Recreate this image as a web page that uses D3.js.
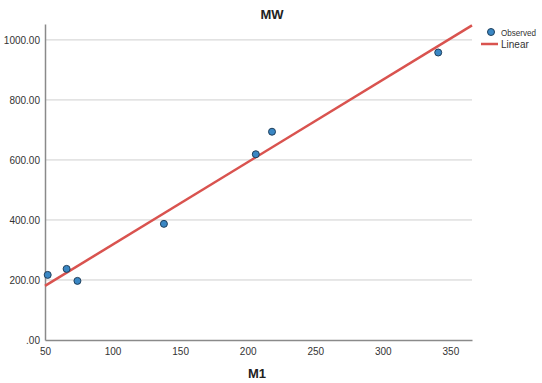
<!DOCTYPE html>
<html>
<head>
<meta charset="utf-8">
<script src="https://cdnjs.cloudflare.com/ajax/libs/d3/7.8.5/d3.min.js"></script>
<style>
body { margin: 0; background: #fff; }
text { font-family: Arial, "Liberation Sans", sans-serif; }
</style>
</head>
<body>
<div id="chart-area"></div>
<script>
var m1 = [52, 66, 74, 138, 206, 218, 341];
var mw = [217, 237, 197, 387, 619, 694, 958];
var xTicks = [50, 100, 150, 200, 250, 300, 350];
var yTicks = [0, 200, 400, 600, 800, 1000];

var width = 542, height = 383;
var margin = {top: 24, right: 70, bottom: 43, left: 45};

var svg = d3.select("#chart-area").append("svg")
	.attr("width", width)
	.attr("height", height);

var x = d3.scaleLinear().domain([50, 366]).range([margin.left, width - margin.right]);
var y = d3.scaleLinear().domain([0, 1053]).range([height - margin.bottom, margin.top]);

// gridlines
svg.append("g").selectAll("line").data(yTicks.filter(d => d > 0)).enter()
	.append("line")
	.attr("x1", x(50)).attr("x2", x(366))
	.attr("y1", d => y(d)).attr("y2", d => y(d))
	.attr("stroke", "#cfcfcf").attr("stroke-width", 1);

// axes
var bottomAxis = d3.axisBottom(x).tickValues(xTicks).tickSize(0).tickPadding(8);
svg.append("g")
	.attr("transform", "translate(0," + y(0) + ")")
	.call(bottomAxis)
	.call(g => g.select(".domain").attr("stroke", "#8a8a8a").attr("stroke-width", 1.5))
	.selectAll("text").attr("font-size", "10px").attr("fill", "#333");

var leftAxis = d3.axisLeft(y).tickValues(yTicks).tickSize(0).tickPadding(5)
	.tickFormat(d => d === 0 ? ".00" : d3.format(".2f")(d));
svg.append("g")
	.attr("transform", "translate(" + x(50) + ",0)")
	.call(leftAxis)
	.call(g => g.select(".domain").attr("stroke", "#8a8a8a").attr("stroke-width", 1.5))
	.selectAll("text").attr("font-size", "10px").attr("fill", "#333");

// linear fit
var mx = d3.mean(m1), my = d3.mean(mw);
var sxy = d3.sum(m1, (d, i) => (d - mx) * (mw[i] - my));
var sxx = d3.sum(m1, d => (d - mx) * (d - mx));
var slope = sxy / sxx, intercept = my - slope * mx;
svg.append("line")
	.attr("x1", x(50)).attr("y1", y(intercept + slope * 50))
	.attr("x2", x(366)).attr("y2", y(intercept + slope * 366))
	.attr("stroke", "#d9534f").attr("stroke-width", 2.5);

// points
svg.append("g").selectAll("circle").data(m1).enter()
	.append("circle")
	.attr("cx", d => x(d))
	.attr("cy", (d, i) => y(mw[i]))
	.attr("r", 3.5)
	.attr("fill", "#3a87c4")
	.attr("stroke", "#1f3f5c").attr("stroke-width", 1);

// titles
svg.append("text").attr("x", 272).attr("y", 19)
	.attr("text-anchor", "middle").attr("font-size", "13px").attr("font-weight", "bold")
	.attr("fill", "#222").text("MW");
svg.append("text").attr("x", 257).attr("y", 378)
	.attr("text-anchor", "middle").attr("font-size", "13px").attr("font-weight", "bold")
	.attr("fill", "#222").text("M1");

// legend
svg.append("circle").attr("cx", 491).attr("cy", 32).attr("r", 3.5)
	.attr("fill", "#3a87c4").attr("stroke", "#1f3f5c");
svg.append("text").attr("x", 501).attr("y", 36).attr("font-size", "9.5px").attr("fill", "#333")
	.attr("textLength", 35).attr("lengthAdjust", "spacingAndGlyphs").text("Observed");
svg.append("line").attr("x1", 481).attr("x2", 498).attr("y1", 44).attr("y2", 44)
	.attr("stroke", "#d9534f").attr("stroke-width", 2.5);
svg.append("text").attr("x", 501).attr("y", 48).attr("font-size", "10px").attr("fill", "#333").text("Linear");
</script>
</body>
</html>
